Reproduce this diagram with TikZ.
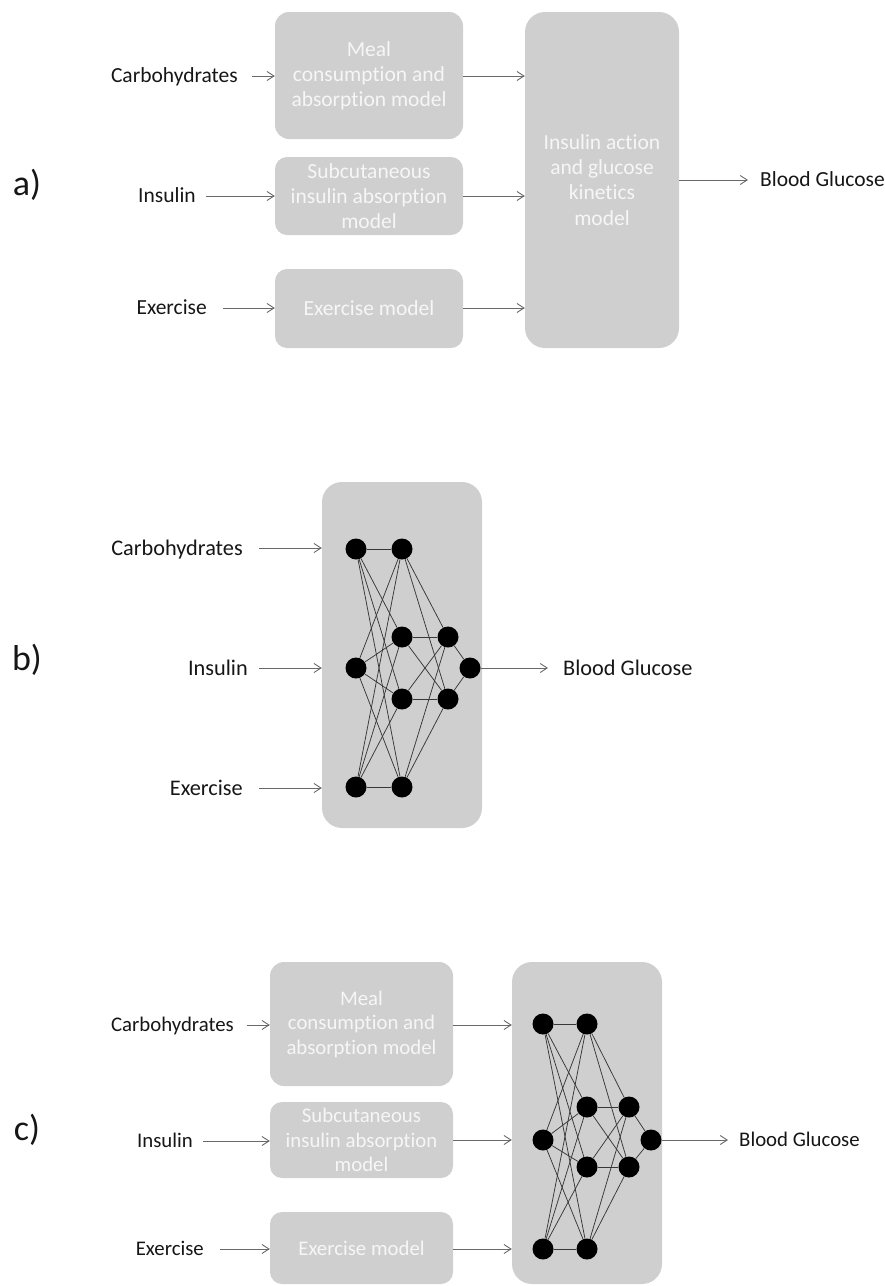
\documentclass[tikz,border=0pt]{standalone}
\usepackage{fontspec}
\setmainfont[Ligatures={NoCommon,NoRequired,NoContextual,NoRare}]{Carlito}
\usetikzlibrary{arrows.meta}

\definecolor{boxgray}{RGB}{207,207,207}
\definecolor{boxtext}{RGB}{246,246,246}
\definecolor{labeltext}{RGB}{22,22,22}
\definecolor{arrowgray}{RGB}{105,105,105}
\definecolor{edgegray}{RGB}{55,55,55}

\tikzset{
  modelbox/.style={fill=boxgray, draw=none, rounded corners=#1, inner sep=0pt,
                   align=center, text=boxtext},
  modelbox/.default=14pt,
  lbl/.style={inner sep=0pt, text=labeltext, text depth=0pt},
  inA/.style={lbl, anchor=east, font=\fontsize{21.5}{25}\selectfont, text height=13.8pt},
  inB/.style={lbl, anchor=east, font=\fontsize{22.3}{26}\selectfont, text height=14.3pt},
  inC/.style={lbl, anchor=east, font=\fontsize{20.8}{24.5}\selectfont, text height=13.4pt},
  outA/.style={inA, anchor=west},
  outB/.style={inB, anchor=west},
  outC/.style={inC, anchor=west},
  part/.style={inner sep=0pt, text=labeltext, font=\fontsize{36}{40}\selectfont},
  txtA/.style={font=\fontsize{21.5}{25.2}\selectfont},
  txtC/.style={font=\fontsize{20.8}{24.5}\selectfont},
  flow/.style={draw=arrowgray, line width=0.9pt,
               -{Straight Barb[length=7pt,width=9pt,line width=0.9pt]}},
  neuron/.style={circle, fill=black, draw=none, minimum size=21pt, inner sep=0pt},
  synapse/.style={draw=edgegray, line width=0.75pt},
}

\begin{document}
\begin{tikzpicture}[x=1pt, y=-1pt]
\useasboundingbox (0,0) rectangle (885,1286);

% ---------------- a) compartmental model ----------------
\node[part] (pa) at (27,185) {a)};

\node[modelbox, minimum width=188pt, minimum height=127pt, txtA] (mealA) at (369,75.5)
  {Meal\\consumption and\\absorption model};
\node[modelbox=12pt, minimum width=188pt, minimum height=78pt, txtA] (subA) at (369,196)
  {Subcutaneous\\insulin absorption\\model};
\node[modelbox=12pt, minimum width=188pt, minimum height=79pt, txtA] (exA) at (369,308.5)
  {Exercise model};
\node[modelbox=20pt, minimum width=154pt, minimum height=336pt, txtA] (bigA) at (602,180)
  {Insulin action\\and glucose\\kinetics\\model};

\node[inA] (carbA) at (238,76) {Carbohydrates};
\node[inA] (insA) at (196,196) {Insulin};
\node[inA] (exeA) at (207,308) {Exercise};
\node[outA] (bgA) at (760,180) {Blood Glucose};

\draw[flow] ([xshift=14pt]carbA.east) -- (carbA.east -| mealA.west);
\draw[flow] ([xshift=10pt]insA.east) -- (insA.east -| subA.west);
\draw[flow] ([xshift=16pt]exeA.east) -- (exeA.east -| exA.west);
\draw[flow] (carbA.east -| mealA.east) -- (carbA.east -| bigA.west);
\draw[flow] (subA.east) -- (subA.east -| bigA.west);
\draw[flow] (exeA.east -| exA.east) -- (exeA.east -| bigA.west);
\draw[flow] (bigA.east) -- ([xshift=-12pt]bgA.west);

% ---------------- b) neural network ----------------
\node[part] (pb) at (27,660) {b)};

\node[modelbox=20pt, minimum width=160pt, minimum height=346pt] (nnB) at (402,655) {};

\node[neuron] (bi1) at (356,549) {};
\node[neuron] (bi2) at (356,668) {};
\node[neuron] (bi3) at (356,787) {};
\node[neuron] (bh1) at (402,549) {};
\node[neuron] (bh2) at (402,637) {};
\node[neuron] (bh3) at (402,699) {};
\node[neuron] (bh4) at (402,787) {};
\node[neuron] (bg1) at (448,637) {};
\node[neuron] (bg2) at (448,699) {};
\node[neuron] (bo)  at (470,668) {};

\foreach \i in {1,2,3} \foreach \j in {1,2,3,4} \draw[synapse] (bi\i) -- (bh\j);
\foreach \j in {1,2,3,4} \foreach \k in {1,2} \draw[synapse] (bh\j) -- (bg\k);
\foreach \k in {1,2} \draw[synapse] (bg\k) -- (bo);

\node[inB] (carbB) at (243,548) {Carbohydrates};
\node[inB] (insB) at (248,668) {Insulin};
\node[inB] (exeB) at (243,788) {Exercise};
\node[outB] (bgB) at (563,668) {Blood Glucose};

\draw[flow] ([xshift=16pt]carbB.east) -- (carbB.east -| nnB.west);
\draw[flow] ([xshift=11pt]insB.east) -- (insB.east -| nnB.west);
\draw[flow] ([xshift=16pt]exeB.east) -- (exeB.east -| nnB.west);
\draw[flow] (bo.east) -- ([xshift=-15pt]bgB.west);

% ---------------- c) hybrid model ----------------
\node[part] (pc) at (27,1130) {c)};

\node[modelbox, minimum width=183pt, minimum height=124pt, txtC] (mealC) at (361.5,1024)
  {Meal\\consumption and\\absorption model};
\node[modelbox=12pt, minimum width=183pt, minimum height=76pt, txtC] (subC) at (361.5,1140)
  {Subcutaneous\\insulin absorption\\model};
\node[modelbox=12pt, minimum width=183pt, minimum height=72pt, txtC] (exC) at (361.5,1248)
  {Exercise model};
\node[modelbox=20pt, minimum width=150pt, minimum height=322pt] (nnC) at (587,1123) {};

\node[neuron] (ci1) at (543,1024) {};
\node[neuron] (ci2) at (543,1140) {};
\node[neuron] (ci3) at (543,1249) {};
\node[neuron] (ch1) at (587,1024) {};
\node[neuron] (ch2) at (587,1107) {};
\node[neuron] (ch3) at (587,1167) {};
\node[neuron] (ch4) at (587,1249) {};
\node[neuron] (cg1) at (629,1107) {};
\node[neuron] (cg2) at (629,1167) {};
\node[neuron] (co)  at (651,1140) {};

\foreach \i in {1,2,3} \foreach \j in {1,2,3,4} \draw[synapse] (ci\i) -- (ch\j);
\foreach \j in {1,2,3,4} \foreach \k in {1,2} \draw[synapse] (ch\j) -- (cg\k);
\foreach \k in {1,2} \draw[synapse] (cg\k) -- (co);

\node[inC] (carbC) at (234,1025) {Carbohydrates};
\node[inC] (insC) at (193,1141) {Insulin};
\node[inC] (exeC) at (204,1249) {Exercise};
\node[outC] (bgC) at (739,1140) {Blood Glucose};

\draw[flow] ([xshift=13pt]carbC.east) -- (carbC.east -| mealC.west);
\draw[flow] ([xshift=10pt]insC.east) -- (insC.east -| subC.west);
\draw[flow] ([xshift=16pt]exeC.east) -- (exeC.east -| exC.west);
\draw[flow] (carbC.east -| mealC.east) -- (carbC.east -| nnC.west);
\draw[flow] (subC.east) -- (subC.east -| nnC.west);
\draw[flow] (exeC.east -| exC.east) -- (exeC.east -| nnC.west);
\draw[flow] (co.east) -- ([xshift=-11pt]bgC.west);
\end{tikzpicture}
\end{document}
